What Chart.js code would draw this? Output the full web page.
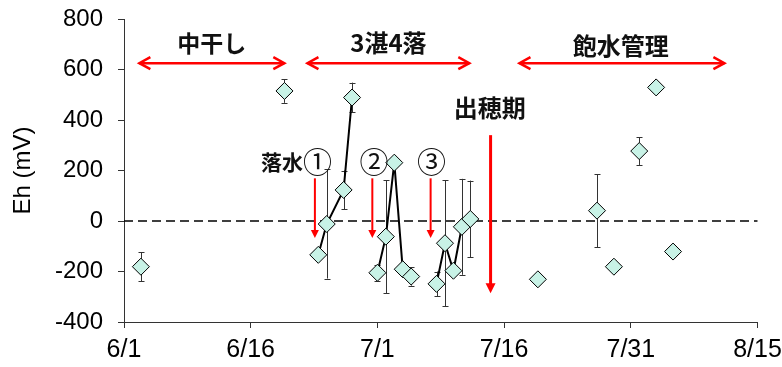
<!DOCTYPE html>
<html>
<head>
<meta charset="utf-8">
<script src="https://cdn.jsdelivr.net/npm/chart.js@4/dist/chart.umd.min.js"></script>
<style>
  html, body { margin: 0; padding: 0; background: #fff; }
  #wrap { width: 782px; height: 367px; }
</style>
</head>
<body>
<div id="wrap"><canvas id="c" width="782" height="367"></canvas></div>
<script>
// Days counted from 6/1 (day 0)
const tickLabels = ['6/1', '6/16', '7/1', '7/16', '7/31', '8/15'];

// Isolated measurements
const singleDays = [2, 19, 49, 56, 58, 61, 63, 65];
const singleEh   = [-181, 515, -231, 41, -181, 277, 529, -121];
const singleErr  = [57, 47, 0, 145, 0, 55, 0, 0];

// Drainage ① sequence
const drain1Days = [23, 24, 26, 27];
const drain1Eh   = [-134, -12, 123, 489];
const drain1Err  = [0, 216, 77, 59];

// Drainage ② sequence
const drain2Days = [30, 31, 32, 33, 34];
const drain2Eh   = [-205, -62, 231, -191, -220];
const drain2Err  = [32, 224, 0, 0, 36];

// Drainage ③ sequence
const drain3Days = [37, 38, 39, 40, 41];
const drain3Eh   = [-249, -88, -197, -23, 8];
const drain3Err  = [49, 249, 0, 190, 152];

// Period labels with double-headed arrows (day range, Eh level)
const periods = [
  { text: '中干し',   from: 1.7,  to: 19.1, y: 625, tx: 10.4, ty: 705, size: 23 },
  { text: '3湛4落',  from: 21.6, to: 41.0, y: 625, tx: 31.3, ty: 705, size: 24 },
  { text: '飽水管理', from: 46.7, to: 71.2, y: 625, tx: 58.8, ty: 693, size: 24 }
];
// Downward event arrows
const events = [
  { x: 22.6, from: 169, to: -67, w: 2, head: 8 },
  { x: 29.4, from: 169, to: -67, w: 2, head: 8 },
  { x: 36.3, from: 169, to: -67, w: 2, head: 8 },
  { x: 43.4, from: 340, to: -286, w: 3, head: 10 }
];
// Event labels
const eventLabels = [
  { text: '落水', tx: 18.7, ty: 235, size: 21, weight: 'bold' },
  { text: '①', tx: 22.9, ty: 235, size: 29, weight: 'normal' },
  { text: '②', tx: 29.6, ty: 235, size: 29, weight: 'normal' },
  { text: '③', tx: 36.4, ty: 235, size: 29, weight: 'normal' },
  { text: '出穂期', tx: 43.3, ty: 448, size: 24, weight: 'bold' }
];

const RED = '#ff0000';
const CJK = '"Noto Sans CJK JP", "Noto Sans", sans-serif';

function toPts(days, vals) {
  return days.map((d, i) => ({ x: d, y: vals[i] }));
}

const pointStyle = {
  pointStyle: 'rectRot',
  pointRadius: 8.5,
  pointHoverRadius: 8.5,
  pointBackgroundColor: '#c8f2e6',
  pointBorderColor: '#000',
  pointBorderWidth: 1
};

const errorBars = {
  id: 'errorBars',
  beforeDatasetsDraw(chart) {
    const { ctx, scales: { x, y }, chartArea } = chart;
    // zero reference line
    ctx.save();
    ctx.strokeStyle = '#000';
    ctx.lineWidth = 1.5;
    ctx.setLineDash([9, 5]);
    const y0 = y.getPixelForValue(0);
    ctx.beginPath();
    ctx.moveTo(chartArea.left, y0);
    ctx.lineTo(chartArea.right, y0);
    ctx.stroke();
    ctx.setLineDash([]);
    // error bars
    ctx.strokeStyle = '#333';
    ctx.lineWidth = 1;
    chart.data.datasets.forEach(ds => {
      (ds.errors || []).forEach((e, i) => {
        if (!e) return;
        const p = ds.data[i];
        const px = Math.round(x.getPixelForValue(p.x)) + 0.5;
        const yt = y.getPixelForValue(p.y + e);
        const yb = y.getPixelForValue(p.y - e);
        ctx.beginPath();
        ctx.moveTo(px, yt); ctx.lineTo(px, yb);
        ctx.moveTo(px - 3, Math.round(yt) + 0.5); ctx.lineTo(px + 3, Math.round(yt) + 0.5);
        ctx.moveTo(px - 3, Math.round(yb) + 0.5); ctx.lineTo(px + 3, Math.round(yb) + 0.5);
        ctx.stroke();
      });
    });
    ctx.restore();
  }
};

const annotations = {
  id: 'annotations',
  afterDatasetsDraw(chart) {
    const { ctx, scales: { x, y } } = chart;
    ctx.save();
    ctx.textAlign = 'center';
    ctx.textBaseline = 'middle';
    // period arrows
    periods.forEach(p => {
      const x1 = x.getPixelForValue(p.from), x2 = x.getPixelForValue(p.to);
      const py = y.getPixelForValue(p.y);
      ctx.strokeStyle = RED;
      ctx.lineWidth = 2.5;
      ctx.lineCap = 'butt';
      ctx.beginPath();
      ctx.moveTo(x1 + 1, py); ctx.lineTo(x2 - 1, py);
      ctx.stroke();
      ctx.lineJoin = 'miter';
      ctx.beginPath();
      ctx.moveTo(x1 + 12, py - 6); ctx.lineTo(x1 + 1, py); ctx.lineTo(x1 + 12, py + 6);
      ctx.moveTo(x2 - 12, py - 6); ctx.lineTo(x2 - 1, py); ctx.lineTo(x2 - 12, py + 6);
      ctx.stroke();
      ctx.fillStyle = '#111';
      ctx.font = 'bold ' + p.size + 'px ' + CJK;
      ctx.fillText(p.text, x.getPixelForValue(p.tx), y.getPixelForValue(p.ty));
    });
    // event arrows
    events.forEach(ev => {
      const px = x.getPixelForValue(ev.x);
      const y1 = y.getPixelForValue(ev.from), y2 = y.getPixelForValue(ev.to);
      ctx.strokeStyle = RED;
      ctx.fillStyle = RED;
      ctx.lineWidth = ev.w;
      ctx.beginPath();
      ctx.moveTo(px, y1); ctx.lineTo(px, y2 - ev.head + 1);
      ctx.stroke();
      ctx.beginPath();
      ctx.moveTo(px - ev.head / 2, y2 - ev.head);
      ctx.lineTo(px + ev.head / 2, y2 - ev.head);
      ctx.lineTo(px, y2);
      ctx.closePath();
      ctx.fill();
    });
    eventLabels.forEach(l => {
      ctx.fillStyle = '#111';
      ctx.font = l.weight + ' ' + l.size + 'px ' + CJK;
      ctx.fillText(l.text, x.getPixelForValue(l.tx), y.getPixelForValue(l.ty));
    });
    ctx.restore();
  }
};

new Chart(document.getElementById('c'), {
  type: 'scatter',
  data: {
    datasets: [
      Object.assign({ data: toPts(singleDays, singleEh), errors: singleErr, showLine: false }, pointStyle),
      Object.assign({ data: toPts(drain1Days, drain1Eh), errors: drain1Err, showLine: true, borderColor: '#000', borderWidth: 2 }, pointStyle),
      Object.assign({ data: toPts(drain2Days, drain2Eh), errors: drain2Err, showLine: true, borderColor: '#000', borderWidth: 2 }, pointStyle),
      Object.assign({ data: toPts(drain3Days, drain3Eh), errors: drain3Err, showLine: true, borderColor: '#000', borderWidth: 2 }, pointStyle)
    ]
  },
  options: {
    responsive: false,
    animation: false,
    events: [],
    layout: { padding: { left: 0, right: 24.5, top: 19, bottom: 0 } },
    plugins: { legend: { display: false }, tooltip: { enabled: false } },
    scales: {
      x: {
        type: 'linear',
        min: 0, max: 75,
        afterFit(s) { s.height = 45; s.paddingLeft = 0; s.paddingRight = 0; },
        border: { display: true, color: '#333', width: 1 },
        grid: { drawOnChartArea: false, drawTicks: true, tickLength: 6, color: '#333' },
        ticks: {
          stepSize: 15, autoSkip: false, maxRotation: 0, padding: 7,
          color: '#000',
          font: { family: '"Liberation Sans", Arial, sans-serif', size: 25 },
          callback: v => tickLabels[Math.round(v / 15)]
        }
      },
      y: {
        min: -400, max: 800,
        afterFit(s) { s.width = 124; s.paddingTop = 0; s.paddingBottom = 0; },
        border: { display: true, color: '#333', width: 1 },
        grid: { drawOnChartArea: false, drawTicks: true, tickLength: 6, color: '#333' },
        ticks: {
          stepSize: 200, padding: 15, color: '#000',
          font: { family: '"Liberation Sans", Arial, sans-serif', size: 24 }
        },
        title: {
          display: true, text: 'Eh (mV)', color: '#000',
          padding: { top: 9, bottom: 0 },
          font: { family: '"Liberation Sans", Arial, sans-serif', size: 24 }
        }
      }
    }
  },
  plugins: [errorBars, annotations]
});
</script>
</body>
</html>
